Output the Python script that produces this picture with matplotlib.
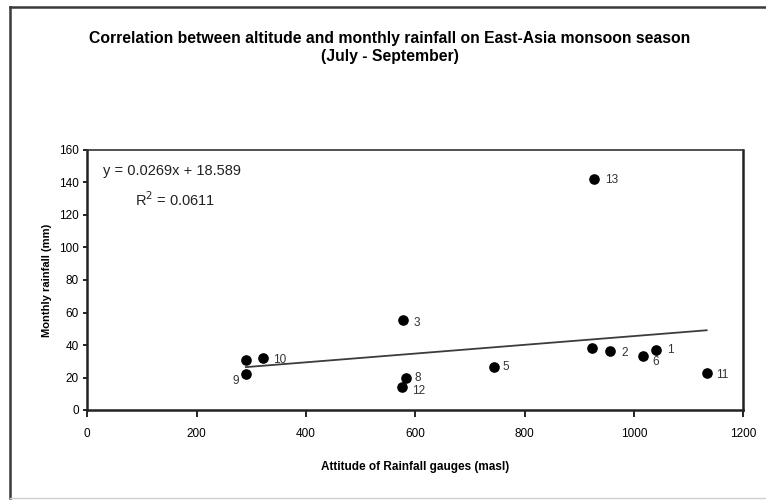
import matplotlib
matplotlib.use("Agg")
import matplotlib.pyplot as plt
from matplotlib.lines import Line2D

plt.rcParams["font.family"] = ["Liberation Sans", "DejaVu Sans"]

# ── data ──
stations = ["1", "2", "3", "4", "5", "6", "7", "8", "9", "10", "11", "12", "13"]
altitude = [1041, 957, 578, 924, 744, 1017, 290, 583, 290, 321, 1133, 575, 926]
rainfall = [36.9, 36.3, 55.4, 38.3, 26.7, 33.4, 30.8, 19.5, 22.2, 31.8, 22.6, 14.0, 142.0]
hidden_labels = ["4", "7"]  # labels covered by other points in the original

slope, intercept, r2 = 0.0269, 18.589, 0.0611

x_ticks = [0, 200, 400, 600, 800, 1000, 1200]
y_ticks = [0, 20, 40, 60, 80, 100, 120, 140, 160]

# label offsets (pixels) relative to each point
offsets = {
    "1": (14, 0), "2": (14, -2), "3": (14, -3), "5": (12, 0), "6": (12, -6),
    "8": (12, 0), "9": (-10, -7), "10": (17, -2), "11": (16, -2),
    "12": (17, -4), "13": (18, -1),
}

W, H = 766, 503
fig = plt.figure(figsize=(W / 100, H / 100), dpi=100)

# outer chart frame: dark top/left, faint bottom
def fig_line(xs, ys, color, lw):
    fig.add_artist(Line2D([x / W for x in xs], [1 - y / H for y in ys],
                          transform=fig.transFigure, color=color, linewidth=lw))

fig_line([10, 766], [7, 7], "#3a3a3a", 1.8)
fig_line([10, 10], [7, 498], "#3a3a3a", 1.8)
fig_line([10, 766], [498, 498], "#d0d0d0", 1.0)

ax = fig.add_axes([87.3 / W, 1 - 410 / H, 656 / W, 260 / H])

ax.scatter(altitude, rainfall, s=44, color="black", zorder=3)

x0, x1 = min(altitude), max(altitude)
ax.plot([x0, x1], [slope * x0 + intercept, slope * x1 + intercept],
        color="#3c3c3c", linewidth=1.3, zorder=2)

for name, xv, yv in zip(stations, altitude, rainfall):
    if name in hidden_labels:
        continue
    dx, dy = offsets[name]
    ax.annotate(name, (xv, yv), xytext=(dx, dy), textcoords="offset pixels",
                ha="center", va="center", fontsize=8.5, color="#333333")

ax.text(0.024, 0.92, f"y = {slope}x + {intercept}", transform=ax.transAxes,
        fontsize=10.5, color="#222222", va="center")
ax.text(0.073, 0.81, f"R$^2$ = {r2}", transform=ax.transAxes,
        fontsize=10.5, color="#222222", va="center")

ax.set_xlim(0, 1200)
ax.set_ylim(0, 160)
ax.set_xticks(x_ticks)
ax.set_yticks(y_ticks)
ax.tick_params(axis="x", direction="out", length=5, width=1.2, labelsize=8.5, pad=8)
ax.tick_params(axis="y", direction="out", length=3, width=1.2, labelsize=8.5, pad=3)
for side in ["left", "bottom", "right"]:
    ax.spines[side].set_linewidth(1.8)
    ax.spines[side].set_color("#222222")
ax.spines["top"].set_linewidth(1.2)
ax.spines["top"].set_color("#333333")

ax.set_xlabel("Attitude of Rainfall gauges (masl)", fontsize=8.5,
              fontweight="bold", labelpad=15)
ax.set_ylabel("Monthly rainfall (mm)", fontsize=8, fontweight="bold",
              labelpad=5)

fig.text(390 / W, 1 - 38 / H,
         "Correlation between altitude and monthly rainfall on East-Asia monsoon season",
         ha="center", va="center", fontsize=11.3, fontweight="bold")
fig.text(390 / W, 1 - 57 / H, "(July - September)",
         ha="center", va="center", fontsize=11.3, fontweight="bold")

fig.savefig("out.png", dpi=100)
